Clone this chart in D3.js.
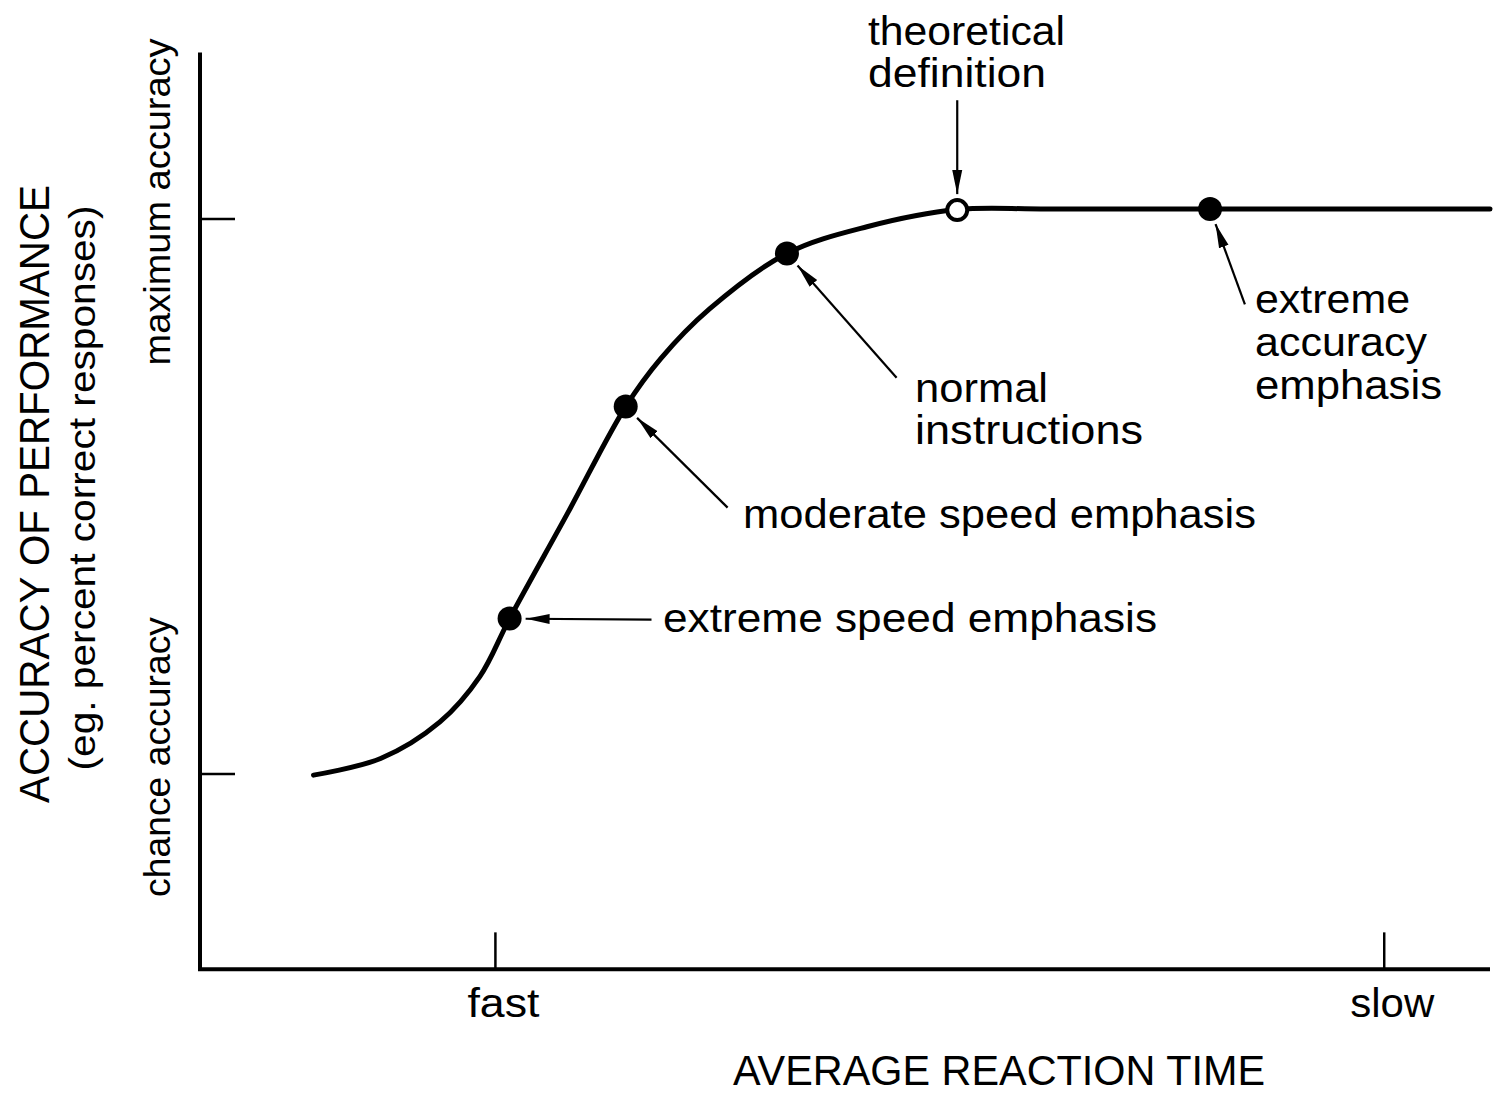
<!DOCTYPE html>
<html>
<head>
<meta charset="utf-8">
<script src="https://cdnjs.cloudflare.com/ajax/libs/d3/7.8.5/d3.min.js"></script>
<style>
  body { margin: 0; background: #fff; }
  text { font-family: "Liberation Sans", Arial, sans-serif; fill: #000; }
</style>
</head>
<body>
<svg id="chart" width="1497" height="1094"></svg>
<script>
// speed-accuracy curve (x: reaction time units, y: accuracy units, chance = 50, max = 100)
var curveX = [8.8, 14.0, 18.6, 21.7, 24.0, 28.5, 33.0, 35.7, 39.5, 45.5, 51.7, 58.7, 65.9, 100];
var curveY = [49.9, 51.4, 54.7, 58.8, 64.0, 73.5, 83.1, 87.4, 91.9, 96.9, 99.3, 100.85, 100.9, 100.9];

// marked conditions on the curve
var pointNames = ["extreme speed", "moderate speed", "normal", "theoretical", "extreme accuracy"];
var pointX = [24.0, 33.0, 45.5, 58.7, 78.3];
var pointY = [64.0, 83.1, 96.9, 100.8, 100.9];
var pointOpen = [false, false, false, true, false];

// where each arrow starts (label side)
var arrowFromX = [35.0, 40.9, 54.0, 58.7, 81.0];
var arrowFromY = [63.9, 74.0, 85.7, 110.7, 92.3];

// axis ticks
var xTicks = [22.9, 91.8];
var xTickLabels = ["fast", "slow"];
var yTicks = [50, 100];
var yTickLabels = ["chance accuracy", "maximum accuracy"];

var svg = d3.select("#chart");

var x = d3.scaleLinear().domain([0, 100]).range([200, 1490]);
var y = d3.scaleLinear().domain([50, 100]).range([774, 219]);

var yTop = 115, yBottom = 32.4;

// 軸
svg.append("line")
    .attr("x1", x(0)).attr("x2", x(0))
    .attr("y1", y(yTop)).attr("y2", y(yBottom))
    .attr("stroke", "#000").attr("stroke-width", 4);
svg.append("line")
    .attr("x1", x(0) - 2).attr("x2", x(100))
    .attr("y1", y(yBottom)).attr("y2", y(yBottom))
    .attr("stroke", "#000").attr("stroke-width", 4);

// ticks point inward
svg.selectAll(".xtick").data(xTicks).enter().append("line")
    .attr("x1", function(d) { return x(d); }).attr("x2", function(d) { return x(d); })
    .attr("y1", y(yBottom)).attr("y2", y(yBottom) - 37)
    .attr("stroke", "#000").attr("stroke-width", 2.5);
svg.selectAll(".ytick").data(yTicks).enter().append("line")
    .attr("x1", x(0)).attr("x2", x(0) + 35)
    .attr("y1", function(d) { return y(d); }).attr("y2", function(d) { return y(d); })
    .attr("stroke", "#000").attr("stroke-width", 2.5);

var xLabW = [72, 84];
svg.selectAll(".xlab").data(xTickLabels).enter().append("text")
    .attr("x", function(d, i) { return x(xTicks[i]) + 8; })
    .attr("y", 1017)
    .attr("text-anchor", "middle")
    .attr("font-size", 40)
    .attr("textLength", function(d, i) { return xLabW[i]; })
    .attr("lengthAdjust", "spacingAndGlyphs")
    .text(function(d) { return d; });

// y tick labels, rotated
var yLabCenter = [757, 202];
var yLabW = [280, 327];
svg.selectAll(".ylab").data(yTickLabels).enter().append("text")
    .attr("transform", function(d, i) { return "translate(170," + yLabCenter[i] + ") rotate(-90)"; })
    .attr("text-anchor", "middle")
    .attr("font-size", 36)
    .attr("textLength", function(d, i) { return yLabW[i]; })
    .attr("lengthAdjust", "spacingAndGlyphs")
    .text(function(d) { return d; });

// axis titles
svg.append("text")
    .attr("transform", "translate(49,494) rotate(-90)")
    .attr("text-anchor", "middle")
    .attr("font-size", 42)
    .attr("textLength", 618)
    .attr("lengthAdjust", "spacingAndGlyphs")
    .text("ACCURACY OF PERFORMANCE");
svg.append("text")
    .attr("transform", "translate(95,488) rotate(-90)")
    .attr("text-anchor", "middle")
    .attr("font-size", 36)
    .attr("textLength", 565)
    .attr("lengthAdjust", "spacingAndGlyphs")
    .text("(eg. percent correct responses)");
svg.append("text")
    .attr("x", 999).attr("y", 1085)
    .attr("text-anchor", "middle")
    .attr("font-size", 42)
    .attr("textLength", 532)
    .attr("lengthAdjust", "spacingAndGlyphs")
    .text("AVERAGE REACTION TIME");

// 曲線
var curveData = curveX.map(function(d, i) { return [d, curveY[i]]; });
var line = d3.line()
    .x(function(d) { return x(d[0]); })
    .y(function(d) { return y(d[1]); })
    .curve(d3.curveCatmullRom.alpha(0.5));
svg.append("path")
    .datum(curveData)
    .attr("d", line)
    .attr("fill", "none")
    .attr("stroke", "#000")
    .attr("stroke-width", 5)
    .attr("stroke-linecap", "round");

// arrows
svg.append("defs").append("marker")
    .attr("id", "head")
    .attr("viewBox", "0 0 24 12")
    .attr("refX", 24).attr("refY", 6)
    .attr("markerWidth", 24).attr("markerHeight", 12)
    .attr("markerUnits", "userSpaceOnUse")
    .attr("orient", "auto")
  .append("path")
    .attr("d", "M0,1 L24,6 L0,11 Z")
    .attr("fill", "#000");

svg.selectAll(".arrow").data(pointNames).enter().append("line")
    .attr("x1", function(d, i) { return x(arrowFromX[i]); })
    .attr("y1", function(d, i) { return y(arrowFromY[i]); })
    .attr("x2", function(d, i) {
        var dx = x(arrowFromX[i]) - x(pointX[i]), dy = y(arrowFromY[i]) - y(pointY[i]);
        var len = Math.sqrt(dx * dx + dy * dy);
        return x(pointX[i]) + dx / len * 16;
    })
    .attr("y2", function(d, i) {
        var dx = x(arrowFromX[i]) - x(pointX[i]), dy = y(arrowFromY[i]) - y(pointY[i]);
        var len = Math.sqrt(dx * dx + dy * dy);
        return y(pointY[i]) + dy / len * 16;
    })
    .attr("stroke", "#000")
    .attr("stroke-width", 2.2)
    .attr("marker-end", "url(#head)");

// points
svg.selectAll(".pt").data(pointNames).enter().append("circle")
    .attr("cx", function(d, i) { return x(pointX[i]); })
    .attr("cy", function(d, i) { return y(pointY[i]); })
    .attr("r", function(d, i) { return pointOpen[i] ? 10 : 12; })
    .attr("fill", function(d, i) { return pointOpen[i] ? "#fff" : "#000"; })
    .attr("stroke", "#000")
    .attr("stroke-width", function(d, i) { return pointOpen[i] ? 4 : 0; });

// annotation labels
var labels = [
    { lines: ["extreme speed emphasis"], x: 663, y: 632, w: [494] },
    { lines: ["moderate speed emphasis"], x: 743, y: 528, w: [513] },
    { lines: ["normal", "instructions"], x: 915, y: 402, w: [133, 228] },
    { lines: ["theoretical", "definition"], x: 868, y: 45, w: [197, 178] },
    { lines: ["extreme", "accuracy", "emphasis"], x: 1255, y: 313, w: [155, 172, 187] }
];
var lineGap = [0, 0, 42, 42, 43];

labels.forEach(function(lab, k) {
    var t = svg.append("text")
        .attr("font-size", 40);
    lab.lines.forEach(function(s, j) {
        t.append("tspan")
            .attr("x", lab.x)
            .attr("y", lab.y + j * lineGap[k])
            .attr("textLength", lab.w[j])
            .attr("lengthAdjust", "spacingAndGlyphs")
            .text(s);
    });
});
</script>
</body>
</html>
